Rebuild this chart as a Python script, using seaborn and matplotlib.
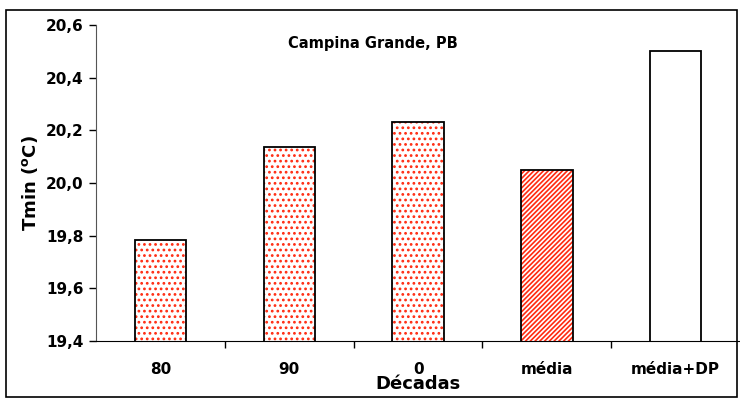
import matplotlib
matplotlib.use("Agg")
import matplotlib.pyplot as plt
import seaborn as sns
import pandas as pd
from matplotlib.patches import Rectangle

# dados
categorias = ["80", "90", "0", "média", "média+DP"]
tmin = [19.785, 20.137, 20.23, 20.05, 20.50]
hachuras = ["...", "...", "...", "///////", ""]
yticks = [19.4, 19.6, 19.8, 20.0, 20.2, 20.4, 20.6]

df = pd.DataFrame({"Décadas": categorias, "Tmin": tmin})

sns.set_style("white")
plt.rcParams["font.family"] = ["DejaVu Sans"]
plt.rcParams["mathtext.fontset"] = "dejavusans"
plt.rcParams["hatch.linewidth"] = 1.2
for k in ["text.color", "axes.labelcolor", "xtick.color", "ytick.color"]:
    plt.rcParams[k] = "black"

fig = plt.figure(figsize=(7.4, 4), dpi=100)
ax = fig.add_axes([0.13, 0.1475, 0.87, 0.79])

# camada de hachura (vermelha)
sns.barplot(data=df, x="Décadas", y="Tmin", ax=ax, color="white", width=0.4,
            saturation=1, linewidth=0)
for p, h in zip(ax.patches, hachuras):
    p.set_hatch(h)
    p.set_edgecolor("#ff2a10")
    p.set_linewidth(0)

# contorno preto
for p in list(ax.patches):
    ax.add_patch(Rectangle((p.get_x(), p.get_y()), p.get_width(), p.get_height(),
                           fill=False, edgecolor="black", linewidth=1.3))

ax.set_ylim(19.4, 20.6)
ax.set_xlim(-0.5, 4.5)
ax.set_yticks(yticks)
ax.set_yticklabels([f"{v:.1f}".replace(".", ",") for v in yticks])
ax.set_xticks([0.5, 1.5, 2.5, 3.5], minor=True)
ax.tick_params(axis="x", which="major", length=0, pad=15)
ax.tick_params(axis="x", which="minor", length=5, width=1, direction="out", bottom=True)
ax.tick_params(axis="y", length=5, width=1, direction="out", left=True, pad=4)
for lab in ax.get_xticklabels() + ax.get_yticklabels():
    lab.set_fontweight("bold")
    lab.set_fontsize(11)

sns.despine(ax=ax, top=True, right=True)
ax.spines["left"].set_color("#555555")
ax.spines["bottom"].set_color("black")

ax.set_xlabel("Décadas", fontsize=13, fontweight="bold", labelpad=-1)
ax.set_ylabel(r"Tmin ($\mathbf{^{o}}$C)", fontsize=13, fontweight="bold", labelpad=4)
ax.text(0.43, 0.943, "Campina Grande, PB", transform=ax.transAxes,
        fontsize=10.5, fontweight="bold", ha="center", va="center")

# moldura externa
fig.patches.append(Rectangle((6 / 740, 3 / 400), 731 / 740, 387 / 400,
                             transform=fig.transFigure, fill=False,
                             edgecolor="black", linewidth=1.2))

plt.savefig("out.png", dpi=100)
